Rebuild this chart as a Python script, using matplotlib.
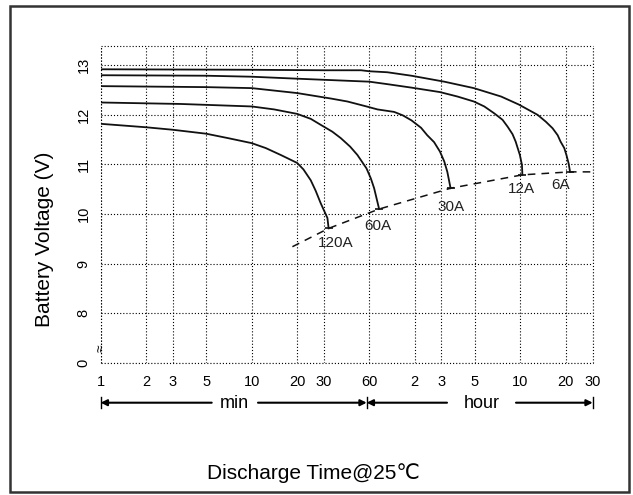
import matplotlib
matplotlib.use('Agg')
import matplotlib.pyplot as plt
from matplotlib.patches import Rectangle
from matplotlib.ticker import NullLocator

plt.rcParams['font.family'] = ['Liberation Sans', 'DejaVu Sans']

# discharge time (minutes) and battery voltage (V)
t_6a = [1, 10, 30, 53, 60, 79, 114, 188, 295, 447, 584, 780, 885, 979, 1058, 1106, 1170, 1209, 1250, 1278]
v_6a = [12.92, 12.91, 12.90, 12.90, 12.88, 12.86, 12.79, 12.67, 12.54, 12.37, 12.21, 12.00, 11.86, 11.73,
        11.59, 11.46, 11.33, 11.19, 11.02, 10.85]

t_12a = [1, 5, 10, 20, 60, 79, 114, 176, 230, 295, 346, 403, 457, 494, 532, 558, 595, 614, 618]
v_12a = [12.80, 12.79, 12.77, 12.73, 12.67, 12.62, 12.55, 12.46, 12.37, 12.27, 12.17, 12.03, 11.90, 11.76,
         11.61, 11.46, 11.19, 10.99, 10.79]

t_30a = [1, 5, 10, 20, 33.4, 43, 57.5, 68, 87.6, 100, 114, 132, 145, 161, 176, 188, 197, 207]
v_30a = [12.58, 12.56, 12.54, 12.44, 12.33, 12.27, 12.17, 12.11, 12.06, 11.99, 11.89, 11.74, 11.59, 11.45,
         11.26, 11.06, 10.85, 10.52]

t_60a = [1, 3.4, 10, 14.1, 20, 24.6, 28.6, 34.2, 38.9, 44.8, 50.1, 57.5, 61.4, 64.6, 69.7]
v_60a = [12.25, 12.22, 12.17, 12.11, 12.02, 11.92, 11.80, 11.66, 11.53, 11.36, 11.19, 10.92, 10.72, 10.52, 10.10]

t_120a = [1, 2, 3, 5, 7, 10, 12.4, 15.6, 17.4, 20, 22.0, 24.6, 26.5, 28.6, 31.7, 32.3]
v_120a = [11.82, 11.75, 11.70, 11.62, 11.53, 11.43, 11.33, 11.19, 11.12, 11.03, 10.90, 10.68, 10.47, 10.22,
          9.92, 9.71]

# end-of-discharge line
t_end = [18.6, 32.3, 69.7, 207, 618, 1278, 1800]
v_end = [9.34, 9.71, 10.10, 10.52, 10.79, 10.85, 10.85]

curve_names = ['6A', '12A', '30A', '60A', '120A']
label_t = [1112, 611, 207, 67.9, 36.0]
label_v = [10.59, 10.50, 10.15, 9.75, 9.41]

x_ticks = [1, 2, 3, 5, 10, 20, 30, 60, 120, 180, 300, 600, 1200, 1800]
x_labels = ['1', '2', '3', '5', '10', '20', '30', '60', '2', '3', '5', '10', '20', '30']
y_ticks = [7, 8, 9, 10, 11, 12, 13]
y_labels = ['0', '8', '9', '10', '11', '12', '13']

W, H = 633, 495


def px(x, y):
    # pixel position -> figure fraction
    return (x / W, 1 - y / H)


fig = plt.figure(figsize=(6.33, 4.95), dpi=100)
ax = fig.add_axes([0.1588, 0.2673, 0.7773, 0.6398])
ax.set_xscale('log')
ax.set_xlim(1, 1800)
ax.set_ylim(7, 13.39)

ax.set_xticks(x_ticks)
ax.set_xticklabels(x_labels, fontsize=10.5)
ax.xaxis.set_minor_locator(NullLocator())
ax.set_yticks(y_ticks)
ax.set_yticklabels(y_labels, fontsize=10.5)
for lbl in ax.get_yticklabels():
    lbl.set_rotation(90)
    lbl.set_va('center')
ax.tick_params(axis='x', length=0, pad=9)
ax.tick_params(axis='y', length=0, pad=7)

dots = (0, (1, 1.8))
ax.grid(True, which='major', color='black', linestyle=dots, linewidth=0.8)
# dotted frame instead of solid spines
for s in ax.spines.values():
    s.set_visible(False)
for xs, ys in [([0, 1], [0, 0]), ([0, 1], [1, 1]), ([0, 0], [0, 1]), ([1, 1], [0, 1])]:
    ax.plot(xs, ys, transform=ax.transAxes, color='black', linestyle=dots, linewidth=0.8, clip_on=False)

curves = [(t_6a, v_6a), (t_12a, v_12a), (t_30a, v_30a), (t_60a, v_60a), (t_120a, v_120a)]
for (t, v), name, lt, lv in zip(curves, curve_names, label_t, label_v):
    ax.plot(t, v, color='#111111', linewidth=1.3, zorder=3, solid_joinstyle='round')
    ax.plot(t[-1], v[-1], marker='_', markersize=6, mew=1.2, color='#111111', zorder=3)
    ax.text(lt, lv, name, fontsize=11, ha='center', va='center', color='#222222')

ax.plot(t_end, v_end, color='#111111', linewidth=1.1, linestyle=(0, (5, 4)), zorder=3)

# axis break mark
fig.text(*px(100.7, 348), '≈', fontsize=10, rotation=90, ha='center', va='center')

# min / hour arrows under the axis
ya = 402.7
arrow = dict(arrowstyle='-|>', mutation_scale=9, lw=1.5, color='black', shrinkA=0, shrinkB=0)
segs = [(211.7, 100.7), (258, 366.7), (447, 366.7), (516, 592.7)]
for x0, x1 in segs:
    ax.annotate('', xy=px(x1, ya), xytext=px(x0, ya), xycoords='figure fraction',
                textcoords='figure fraction', arrowprops=arrow)
for xb in [100.7, 366.7, 592.7]:
    fig.add_artist(plt.Line2D([xb / W, xb / W], [1 - 396.7 / H, 1 - 407.5 / H],
                              color='black', linewidth=1.0))
fig.text(*px(234.7, 404), 'min', fontsize=13, ha='center', va='center')
fig.text(*px(481.7, 404), 'hour', fontsize=13, ha='center', va='center')

fig.text(*px(45, 239), 'Battery Voltage (V)', fontsize=15, rotation=90, ha='center', va='center')
fig.text(*px(313, 473), 'Discharge Time@25℃', fontsize=15, ha='center', va='center')

# outer frame
fig.add_artist(Rectangle(px(10, 492), 618.5 / W, 486 / H, transform=fig.transFigure,
                         fill=False, linewidth=1.8, edgecolor='#333333'))

fig.savefig('out.png', dpi=100)
